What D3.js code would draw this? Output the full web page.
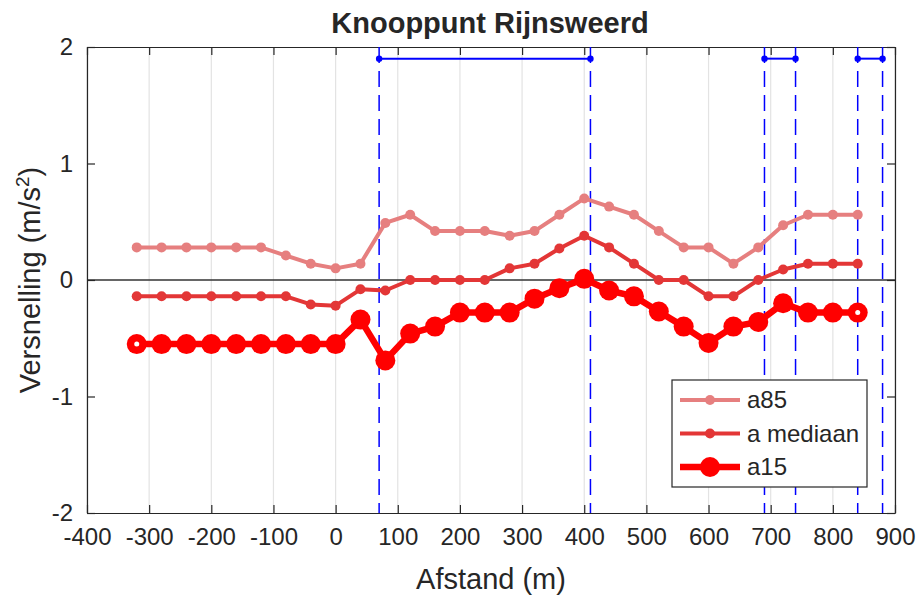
<!DOCTYPE html>
<html>
<head>
    <meta charset="utf-8">
    <title>Knooppunt Rijnsweerd</title>
    <script src="https://d3js.org/d3.v7.min.js"></script>
    <style>
        body { margin: 0; background: #fff; }
        text { font-family: "Liberation Sans", Arial, sans-serif; fill: #262626; }
    </style>
</head>
<body>
<script>
// distance along the road (m)
const afstand = [-320, -280, -240, -200, -160, -120, -80, -40, 0, 40, 80, 120, 160, 200, 240,
                 280, 320, 360, 400, 440, 480, 520, 560, 600, 640, 680, 720, 760, 800, 840];

// acceleration series (m/s^2)
const a85 = [0.28, 0.28, 0.28, 0.28, 0.28, 0.28, 0.21, 0.14, 0.10, 0.14, 0.49, 0.56, 0.42, 0.42, 0.42,
             0.38, 0.42, 0.56, 0.70, 0.63, 0.56, 0.42, 0.28, 0.28, 0.14, 0.28, 0.47, 0.56, 0.56, 0.56];
const aMediaan = [-0.14, -0.14, -0.14, -0.14, -0.14, -0.14, -0.14, -0.21, -0.22, -0.08, -0.09, 0.00, 0.00, 0.00, 0.00,
                  0.10, 0.14, 0.27, 0.38, 0.28, 0.14, 0.00, 0.00, -0.14, -0.14, 0.00, 0.09, 0.14, 0.14, 0.14];
const a15 = [-0.55, -0.55, -0.55, -0.55, -0.55, -0.55, -0.55, -0.55, -0.55, -0.34, -0.69, -0.46, -0.40, -0.28, -0.28,
             -0.28, -0.16, -0.07, 0.01, -0.09, -0.14, -0.27, -0.40, -0.54, -0.40, -0.36, -0.20, -0.28, -0.28, -0.28];

// weaving / ramp sections marked in blue (start, end)
const vakken = [[70, 410], [690, 740], [840, 880]];
const vakY = 1.9;

const xTicks = d3.range(-400, 901, 100);
const yTicks = [-2, -1, 0, 1, 2];

const series = [
    { name: "a85", values: a85, color: "#e67f7f", lw: 4, r: 5 },
    { name: "a mediaan", values: aMediaan, color: "#e33636", lw: 4, r: 5 },
    { name: "a15", values: a15, color: "#ff0000", lw: 6.5, r: 10 }
];

const W = 921, H = 598;
const m = { left: 87, right: 26, top: 47, bottom: 85 };
const pw = W - m.left - m.right, ph = H - m.top - m.bottom;

const svg = d3.select("body").append("svg")
    .attr("width", W).attr("height", H);

const x = d3.scaleLinear().domain([-400, 900]).range([m.left, m.left + pw]);
const y = d3.scaleLinear().domain([-2, 2]).range([m.top + ph, m.top]);

// grid (vertical only)
svg.append("g").selectAll("line")
    .data(xTicks)
    .join("line")
    .attr("x1", d => x(d)).attr("x2", d => x(d))
    .attr("y1", y(-2)).attr("y2", y(2))
    .attr("stroke", "#e3e3e3").attr("stroke-width", 1.2);

// zero line
svg.append("line")
    .attr("x1", x(-400)).attr("x2", x(900))
    .attr("y1", y(0)).attr("y2", y(0))
    .attr("stroke", "#333").attr("stroke-width", 1.5);

// axes with inward ticks, MATLAB box
const tl = 8;
const fmt = d => String(d);
const xAxisB = d3.axisBottom(x).tickValues(xTicks).tickFormat(fmt).tickSizeInner(-tl).tickSizeOuter(0).tickPadding(15);
const xAxisT = d3.axisTop(x).tickValues(xTicks).tickSizeInner(-tl).tickSizeOuter(0).tickFormat("");
const yAxisL = d3.axisLeft(y).tickValues(yTicks).tickFormat(fmt).tickSizeInner(-tl).tickSizeOuter(0).tickPadding(14);
const yAxisR = d3.axisRight(y).tickValues(yTicks).tickSizeInner(-tl).tickSizeOuter(0).tickFormat("");

function styleAxis(g) {
    g.select(".domain").attr("stroke", "#262626").attr("stroke-width", 1.2);
    g.selectAll(".tick line").attr("stroke", "#262626").attr("stroke-width", 1.2);
    g.selectAll(".tick text").attr("font-size", 24).attr("fill", "#262626")
        .attr("font-family", "Liberation Sans, Arial, sans-serif");
}

svg.append("g").attr("transform", `translate(0,${y(-2)})`).call(xAxisB).call(styleAxis);
svg.append("g").attr("transform", `translate(0,${y(2)})`).call(xAxisT).call(styleAxis);
svg.append("g").attr("transform", `translate(${x(-400)},0)`).call(yAxisL).call(styleAxis);
svg.append("g").attr("transform", `translate(${x(900)},0)`).call(yAxisR).call(styleAxis);

// blue section lines
const vg = svg.append("g");
vakken.forEach(([s, e]) => {
    [s, e].forEach(v => {
        vg.append("line")
            .attr("x1", x(v)).attr("x2", x(v))
            .attr("y1", y(2)).attr("y2", y(-2))
            .attr("stroke", "#0000ff").attr("stroke-width", 1.5)
            .attr("stroke-dasharray", "16,8");
        vg.append("circle").attr("cx", x(v)).attr("cy", y(vakY)).attr("r", 3.2).attr("fill", "#0000ff");
    });
    vg.append("line")
        .attr("x1", x(s)).attr("x2", x(e))
        .attr("y1", y(vakY)).attr("y2", y(vakY))
        .attr("stroke", "#0000ff").attr("stroke-width", 2);
});

// series
const line = d3.line().x(d => x(d[0])).y(d => y(d[1]));
series.forEach(s => {
    const pts = afstand.map((d, i) => [d, s.values[i]]);
    const g = svg.append("g");
    g.append("path").datum(pts)
        .attr("d", line)
        .attr("fill", "none").attr("stroke", s.color)
        .attr("stroke-width", s.lw).attr("stroke-linejoin", "round");
    g.selectAll("circle").data(pts).join("circle")
        .attr("cx", d => x(d[0])).attr("cy", d => y(d[1]))
        .attr("r", s.r).attr("fill", s.color);
});

// small white centre on end markers of a15
[0, afstand.length - 1].forEach(i => {
    svg.append("circle")
        .attr("cx", x(afstand[i])).attr("cy", y(a15[i]))
        .attr("r", 2.5).attr("fill", "#fff");
});

// legend
const lg = svg.append("g").attr("transform", "translate(672,380)");
lg.append("rect").attr("width", 195).attr("height", 107)
    .attr("fill", "#fff").attr("stroke", "#262626").attr("stroke-width", 1.2);
series.forEach((s, i) => {
    const ly = 20 + i * 33.5;
    lg.append("line").attr("x1", 8).attr("x2", 68).attr("y1", ly).attr("y2", ly)
        .attr("stroke", s.color).attr("stroke-width", s.lw);
    lg.append("circle").attr("cx", 38).attr("cy", ly).attr("r", s.r).attr("fill", s.color);
    lg.append("text").attr("x", 75).attr("y", ly).attr("dy", "0.35em")
        .attr("font-size", 24).text(s.name);
});

// title and axis labels
svg.append("text").attr("x", 490).attr("y", 33).attr("text-anchor", "middle")
    .attr("font-size", 29).attr("font-weight", "bold").attr("fill", "#000")
    .text("Knooppunt Rijnsweerd");

svg.append("text").attr("x", x(250)).attr("y", 589).attr("text-anchor", "middle")
    .attr("font-size", 29).text("Afstand (m)");

const yl = svg.append("text")
    .attr("transform", `translate(40,${y(0)}) rotate(-90)`)
    .attr("text-anchor", "middle").attr("font-size", 29);
yl.append("tspan").text("Versnelling (m/s");
yl.append("tspan").attr("font-size", 19).attr("dy", -11).text("2");
yl.append("tspan").attr("dy", 11).text(")");
</script>
</body>
</html>
